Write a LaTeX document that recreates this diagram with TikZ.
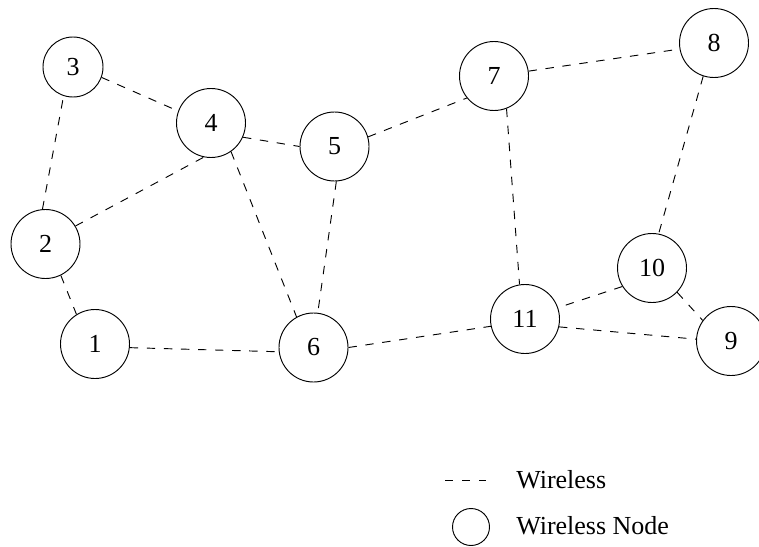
\documentclass[tikz,border=0pt]{standalone}
\usepackage{fontspec}
\setmainfont{Liberation Serif}
\begin{document}
\begin{tikzpicture}[x=0.75pt,y=-0.75pt,
  wnode/.style={draw,circle,line width=0.7pt,inner sep=0pt,minimum size=51.75pt,
    font=\fontsize{19.5}{22}\selectfont},
  smallnode/.style={wnode,minimum size=45pt},
  wlink/.style={line width=0.7pt,dash pattern=on 6.3pt off 6.5pt},
  legtext/.style={anchor=west,inner sep=0pt,font=\fontsize{19.5}{22}\selectfont}]
\useasboundingbox (0,0) rectangle (759,546);
\clip (0,0) rectangle (759,546);

% wireless nodes
\node[wnode]     (n1)  at (95,344)    {1};
\node[wnode]     (n2)  at (45.5,244)  {2};
\node[smallnode] (n3)  at (73,67)     {3};
\node[wnode]     (n4)  at (211,123)   {4};
\node[wnode]     (n5)  at (334.5,146.5) {5};
\node[wnode]     (n6)  at (313.5,347.5) {6};
\node[wnode]     (n7)  at (494,76)    {7};
\node[wnode]     (n8)  at (714,43)    {8};
\node[wnode]     (n9)  at (731,341)   {9};
\node[wnode]     (n10) at (652,268)   {10};
\node[wnode]     (n11) at (525,319)   {11};

% wireless links
\draw[wlink] (n2.95)   -- (n3.-108);
\draw[wlink] (n3.-20)  -- (n4.160);
\draw[wlink] (n2.31)   -- (n4.-102);
\draw[wlink] (n2.-64)  -- (n1.122);
\draw[wlink] (n1.-6)   -- (n6.-173);
\draw[wlink] (n4.-24)  -- (n5.180);
\draw[wlink] (n4.-55)  -- (n6.119);
\draw[wlink] (n5.-87)  -- (n6.83);
\draw[wlink] (n5.16)   -- (n7.-141);
\draw[wlink] (n7.8)    -- (n8.-170);
\draw[wlink] (n7.-69)  -- (n11.99);
\draw[wlink] (n8.-108) -- (n10.79);
\draw[wlink] (n10.-148) -- (n11.19);
\draw[wlink] (n10.-44) -- (n9.144);
\draw[wlink] (n11.-13) -- (n9.177);
\draw[wlink] (n6.0)    -- (n11.-168);

% legend
\coordinate (la) at (445,480);
\coordinate (lb) at (486,480);
\draw[line width=0.7pt,dash pattern=on 6pt off 6.75pt] (la) -- (lb);
\node[legtext] (lt1) at (516,480) {Wireless};
\node[draw,circle,line width=0.7pt,inner sep=0pt,minimum size=27.75pt] (lc) at (471,527) {};
\node[legtext] (lt2) at (516,526) {Wireless Node};
\end{tikzpicture}
\end{document}
